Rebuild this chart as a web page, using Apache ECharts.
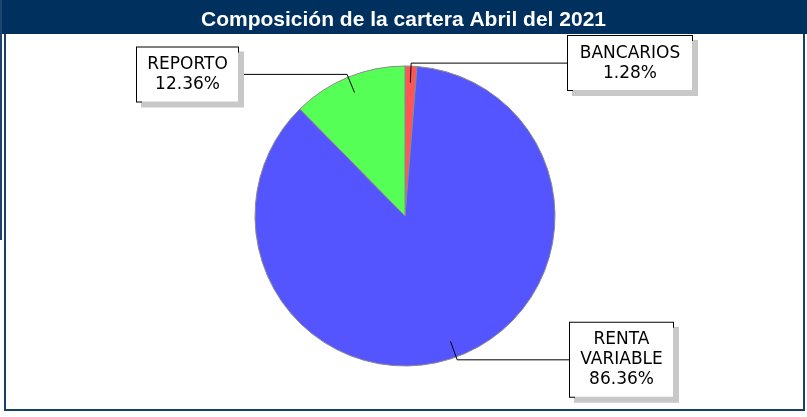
<!DOCTYPE html>
<html><head><meta charset="utf-8">
<script src="https://cdn.jsdelivr.net/npm/echarts@6/dist/echarts.min.js"></script>
<style>html,body{margin:0;padding:0;background:#fff}#c{width:807px;height:417px}</style>
</head><body><div id="c"></div>
<script>
var titleText = 'Composición de la cartera Abril del 2021';
var categories = ['BANCARIOS', 'RENTA\nVARIABLE', 'REPORTO'];
var values = [1.28, 86.36, 12.36];
var sliceColors = ['#FF5555', '#5555FF', '#55FF55'];
// label box styling (style, not data)
var boxWidths = [124, 103, 101];
var boxCenterX = [630, 621.5, 187.5];

var CX = 405, CY = 216, R = 150;
var total = values.reduce(function(a,b){return a+b;},0);

var sliceData = categories.map(function(c,i){
  return {name:c, value:values[i], itemStyle:{color:sliceColors[i]}};
});
var labelData = categories.map(function(c,i){
  return {name:c, value:values[i], label:{width:boxWidths[i]}};
});

function midAngle(i){
  var acc = 0;
  for (var k=0;k<i;k++) acc += values[k];
  acc += values[i]/2;
  return acc/total*2*Math.PI; // clockwise from top
}

var chart = echarts.init(document.getElementById('c'), null, {renderer:'canvas'});
chart.setOption({
  animation:false,
  backgroundColor:'#fff',
  title:{text:titleText, left:'center', top:5,
    textStyle:{color:'#fff', fontWeight:'bold', fontSize:21, fontFamily:'Liberation Sans, Arial, sans-serif'}},
  graphic:[
    {type:'rect', z:-1, shape:{x:0,y:0,width:807,height:34}, style:{fill:'#00305E'}},
    {type:'rect', z:-1, shape:{x:0,y:0,width:2,height:240}, style:{fill:'#1F4470'}},
    {type:'rect', z:-1, shape:{x:4,y:34,width:2,height:377}, style:{fill:'#173F6B'}},
    {type:'rect', z:-1, shape:{x:803,y:34,width:2,height:377}, style:{fill:'#173F6B'}},
    {type:'rect', z:-1, shape:{x:4,y:409,width:801,height:2}, style:{fill:'#173F6B'}}
  ],
  series:[{
    type:'pie', z:2,
    center:[CX, CY], radius:R, startAngle:90, clockwise:true,
    itemStyle:{borderColor:'#8a8a8a', borderWidth:1},
    emphasis:{disabled:true},
    label:{show:false}, labelLine:{show:false},
    data:sliceData
  },{
    type:'pie', z:3, silent:true,
    center:[CX, CY], radius:R, startAngle:90, clockwise:true,
    avoidLabelOverlap:false,
    itemStyle:{color:'rgba(0,0,0,0)', borderWidth:0},
    emphasis:{disabled:true},
    label:{show:true, position:'outside',
      formatter:function(p){ return p.name + '\n' + p.value.toFixed(2) + '%'; },
      fontFamily:'DejaVu Sans', fontSize:17, lineHeight:20, color:'#000',
      align:'center', padding:[7,0,7,0],
      backgroundColor:'#fff', borderColor:'#000', borderWidth:1,
      shadowColor:'#c8c8c8', shadowBlur:0, shadowOffsetX:5, shadowOffsetY:5},
    labelLine:{show:true, lineStyle:{color:'#000', width:1}},
    labelLayout:function(p){
      var i = p.dataIndex;
      var a = midAngle(i);
      var sx = Math.sin(a), sy = -Math.cos(a);
      var p0 = [CX + sx*R*0.89, CY + sy*R*0.89];
      var p1 = [CX + sx*R*1.02, CY + sy*R*1.02];
      var bx = boxCenterX[i];
      var half = boxWidths[i]/2;
      var ex = bx > p1[0] ? bx - half : bx + half;
      return {x:bx, y:p1[1], align:'center', verticalAlign:'middle',
        labelLinePoints:[p0, p1, [ex, p1[1]]]};
    },
    data:labelData
  }]
});
</script></body></html>
